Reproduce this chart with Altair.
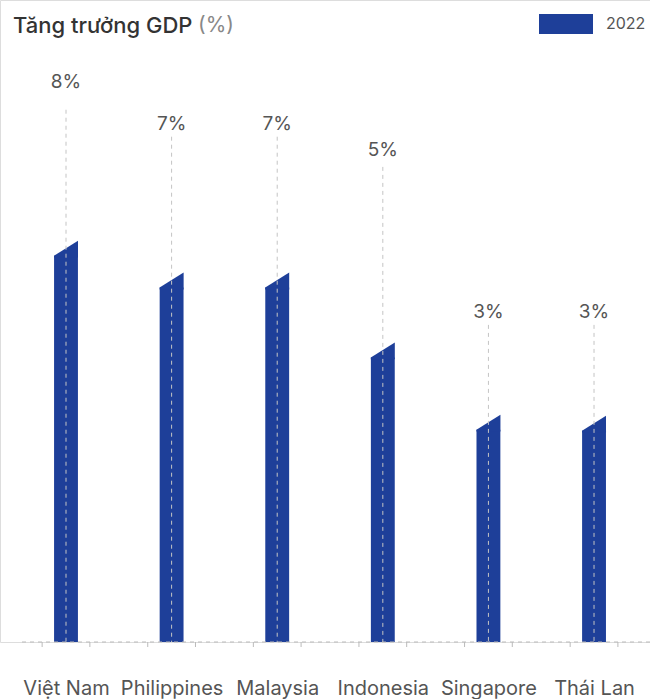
import altair as alt
import pandas as pd

countries = ["Việt Nam", "Philippines", "Malaysia", "Indonesia", "Singapore", "Thái Lan"]
values = [8.0, 7.1, 7.1, 5.13, 3.1, 3.07]
labels = ["8%", "7%", "7%", "5%", "3%", "3%"]
label_pos = [12.48, 11.3, 11.3, 10.56, 6.0, 6.0]
line_top = [11.69, 10.93, 10.93, 10.08, 5.63, 5.63]
legend_label = "2022"

BASE = -3.3
YMAX = 14.78
SLANT = 0.42
HALF = 0.113
TICK_OFF = 0.226
BLUE = "#1E3F99"
FONT = "Inter"

xs = alt.Scale(domain=[-0.625, 5.53], nice=False, zero=False)
ys = alt.Scale(domain=[BASE, YMAX], nice=False, zero=False)

n = len(countries)
info = pd.DataFrame({
    "country": countries,
    "idx": list(range(n)),
    "left": [i - HALF for i in range(n)],
    "right": [i + HALF for i in range(n)],
    "value": values,
    "low": [v - SLANT for v in values],
    "label": labels,
    "label_pos": label_pos,
    "line_top": line_top,
    "base": [BASE] * n,
})

ticks_df = pd.DataFrame({"t": [i + s for i in range(n) for s in (-TICK_OFF, TICK_OFF)]})

label_expr = "[" + ",".join('"%s"' % c for c in countries) + "][datum.value]"

body = alt.Chart(info).mark_bar(color=BLUE, opacity=1).encode(
    x=alt.X("left:Q", scale=xs, axis=alt.Axis(
        values=list(range(n)), labelExpr=label_expr, title=None,
        ticks=False, domain=False, grid=False, labelFontSize=20, labelColor="#555",
        labelFont=FONT, labelPadding=36, labelOverlap=False)),
    x2="right:Q",
    y=alt.Y("low:Q", scale=ys, axis=None),
    y2="base:Q",
)

cap = alt.Chart(info).mark_point(
    shape="M-1,0.15L1,0.15L1,-1.25L-1,0Z", filled=True, color=BLUE, opacity=1, size=576, strokeWidth=0
).encode(
    x=alt.X("idx:Q", scale=xs),
    y=alt.Y("low:Q", scale=ys),
)

baseline = alt.Chart(pd.DataFrame({"base": [BASE]})).mark_rule(
    color="#bbbbbb", strokeDash=[4, 4], strokeWidth=1
).encode(x=alt.value(22), x2=alt.value(650), y=alt.Y("base:Q", scale=ys))

ticks = alt.Chart(ticks_df).mark_rule(color="#bbbbbb", strokeWidth=1).encode(
    x=alt.X("t:Q", scale=xs), y=alt.value(642), y2=alt.value(647)
)

dash = alt.Chart(info).mark_rule(color="#c4c4c4", strokeDash=[4, 4], strokeWidth=1).encode(
    x=alt.X("idx:Q", scale=xs), y=alt.Y("line_top:Q", scale=ys), y2="base:Q"
)

text = alt.Chart(info).mark_text(fontSize=19, color="#555", font=FONT, baseline="middle").encode(
    x=alt.X("idx:Q", scale=xs), y=alt.Y("label_pos:Q", scale=ys), text="label:N"
)

one = pd.DataFrame({"a": [0]})
title1 = alt.Chart(one).mark_text(text="Tăng trưởng GDP", fontSize=22, color="#333", font=FONT,
                                  align="left", baseline="middle", fontWeight=500).encode(
    x=alt.value(13), y=alt.value(26))
title2 = alt.Chart(one).mark_text(text="(%)", fontSize=21, color="#888", font=FONT,
                                  align="left", baseline="middle").encode(
    x=alt.value(198), y=alt.value(26))
leg_rect = alt.Chart(one).mark_rect(color=BLUE).encode(
    x=alt.value(539), x2=alt.value(593), y=alt.value(14), y2=alt.value(34))
leg_text = alt.Chart(one).mark_text(text=legend_label, fontSize=16, color="#555", font=FONT,
                                    align="left", baseline="middle").encode(
    x=alt.value(606), y=alt.value(24))

chart = alt.layer(body, cap, baseline, ticks, dash, text, title1, title2, leg_rect, leg_text).properties(
    width=650, height=642,
    autosize=alt.AutoSizeParams(type="none"),
    padding={"left": 0, "top": 0, "right": 0, "bottom": 57},
).configure_view(stroke=None).configure(background="white")

chart.save("out.html", embed_options={"renderer": "svg", "actions": False})
